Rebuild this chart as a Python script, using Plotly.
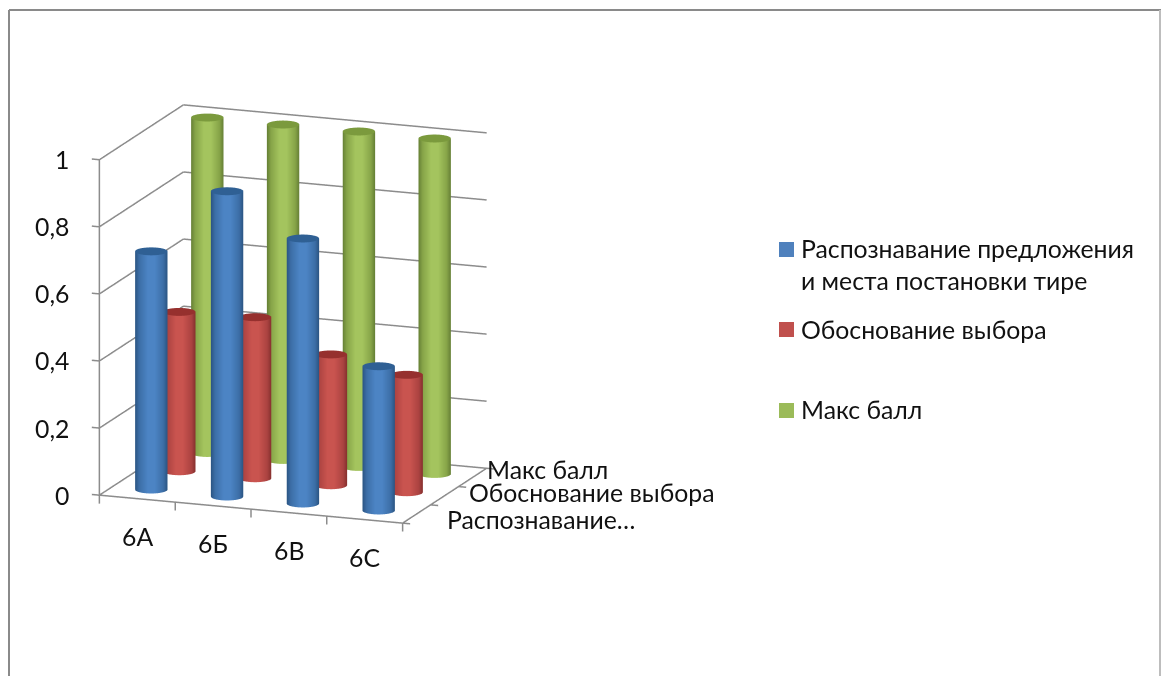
import numpy as np
import plotly.graph_objects as go

categories = ["6А", "6Б", "6В", "6С"]
series_names = ["Распознавание предложения и места постановки тире", "Обоснование выбора", "Макс балл"]
series_axis_labels = ["Распознавание…", "Обоснование выбора", "Макс балл"]
blue_values = [0.71, 0.91, 0.79, 0.43]
red_values = [0.475, 0.48, 0.39, 0.35]
green_values = [1.0, 1.0, 1.0, 1.0]
z_ticks = [0, 0.2, 0.4, 0.6, 0.8, 1]
z_labels = ["0", "0,2", "0,4", "0,6", "0,8", "1"]

FONT = "Lato, 'Open Sans', sans-serif"
GRID = "#8c8c8c"
az, el = np.radians(20.6), np.radians(14.2)
R = 3.0
view = np.array([np.sin(az) * np.cos(el), -np.cos(az) * np.cos(el), np.sin(el)])
SC = 1.102
ux, uy, uz = SC * 0.936 / 4, SC * 0.69 / 3, SC * 1.0
rx, ry = 0.2, 0.203
XR, YR, ZR = [-0.65, 3.65], [-0.56, 2.56], [-0.035, 1.035]

palette = [
    dict(dark="#2a5482", mid="#3c6ea6", light="#4c84c4", cap="#2f6094"),
    dict(dark="#86302e", mid="#ab4341", light="#c9544f", cap="#96302e"),
    dict(dark="#657f35", mid="#86a448", light="#a4c45e", cap="#7b9a3d"),
]

fig = go.Figure()
for j, vals in enumerate([blue_values, red_values, green_values]):
    pal = palette[j]
    cs = [[0, pal["dark"]], [0.2, pal["mid"]], [0.62, pal["light"]], [0.82, pal["light"]],
          [0.83, pal["cap"]], [1, pal["cap"]]]
    for i, v in enumerate(vals):
        t = np.linspace(0, 2 * np.pi, 145)
        nx, ny = np.cos(t), np.sin(t)
        c = np.clip(nx * view[0] + ny * view[1], 0, 1) / np.hypot(view[0], view[1])
        shade = 0.95 * (1 - np.sqrt(np.clip(1 - c ** 2, 0, 1)))
        rings_r = [1, 1, 1, 0]
        rings_z = [0, v, v, v]
        X = np.array([i + rx * r * nx for r in rings_r])
        Y = np.array([j + ry * r * ny for r in rings_r])
        Z = np.array([np.full_like(t, zz) for zz in rings_z])
        C = np.array([shade, shade, np.full_like(t, 1.2), np.full_like(t, 1.2)])
        fig.add_trace(go.Surface(x=X, y=Y, z=Z, surfacecolor=C, colorscale=cs, cmin=0, cmax=1.2,
                                 showscale=False, hoverinfo="skip",
                                 lighting=dict(ambient=1, diffuse=0, specular=0, roughness=1, fresnel=0)))

# walls, floor edges and tick marks
x0, x1, y0, y1 = -0.5, 3.5, -0.5, 2.5
lx, ly, lz = [], [], []
def seg(a, b):
    lx.extend([a[0], b[0], np.nan]); ly.extend([a[1], b[1], np.nan]); lz.extend([a[2], b[2], np.nan])
for z in z_ticks:
    seg((x0 - 0.1, y0, z), (x0, y0, z))
    seg((x0, y0, z), (x0, y1, z))
    seg((x0, y1, z), (x1, y1, z))
seg((x0, y0, 0), (x0, y0, 1))
seg((x0, y0, 0), (x1, y0, 0))
seg((x1, y0, 0), (x1, y1, 0))
for k in range(5):
    seg((x0 + k, y0, 0), (x0 + k, y0, -0.025))
for k in range(4):
    seg((x1, y0 + k, 0), (x1 + 0.1, y0 + k, 0))
fig.add_trace(go.Scatter3d(x=lx, y=ly, z=lz, mode="lines", line=dict(color=GRID, width=3),
                           hoverinfo="skip", showlegend=False))

annots = []
tf = dict(family=FONT, size=24.8, color="#111111")
for z, lab in zip(z_ticks, z_labels):
    annots.append(dict(x=x0, y=y0, z=z, text=lab, showarrow=False, xanchor="right", xshift=-28, font=tf))
for i, c in enumerate(categories):
    annots.append(dict(x=i, y=y0, z=0, text=c, showarrow=False, yshift=-38, font=tf))
for j, s in enumerate(series_axis_labels):
    annots.append(dict(x=x1, y=j, z=0, text=s, showarrow=False, xanchor="left",
                       xshift=[28, 22, 12][j], yshift=[-6, 3, 8][j], font=tf))

hidden = dict(visible=False, showgrid=False, zeroline=False, showticklabels=False, showbackground=False)
fig.update_layout(
    width=1161, height=676, margin=dict(l=0, r=0, t=0, b=0), paper_bgcolor="white", showlegend=False,
    scene=dict(
        domain=dict(x=[0, 586 / 1161], y=[48 / 676, 1]),
        xaxis=dict(hidden, range=XR), yaxis=dict(hidden, range=YR), zaxis=dict(hidden, range=ZR),
        aspectmode="manual",
        aspectratio=dict(x=ux * (XR[1] - XR[0]), y=uy * (YR[1] - YR[0]), z=uz * (ZR[1] - ZR[0])),
        camera=dict(eye=dict(x=R * view[0], y=R * view[1], z=R * view[2]), center=dict(x=0, y=0, z=0),
                    up=dict(x=0, y=0, z=1), projection=dict(type="orthographic")),
        annotations=annots,
    ),
    shapes=[
        dict(type="line", xref="paper", yref="paper", x0=9 / 1161, x1=9 / 1161, y0=0, y1=1 - 10 / 676, line=dict(color="#8a8a8a", width=2)),
        dict(type="line", xref="paper", yref="paper", x0=9 / 1161, x1=1, y0=1 - 10 / 676, y1=1 - 10 / 676, line=dict(color="#8a8a8a", width=2)),
        dict(type="line", xref="paper", yref="paper", x0=1160 / 1161, x1=1160 / 1161, y0=0, y1=1 - 10 / 676, line=dict(color="#bdbdbd", width=2)),
    ] + [
        dict(type="rect", xref="paper", yref="paper", x0=779 / 1161, x1=794 / 1161,
             y0=1 - yy / 676, y1=1 - (yy + 15) / 676, fillcolor=col, line=dict(width=0))
        for yy, col in [(242, "#4f81bd"), (322, "#c0504d"), (403, "#9bbb59")]
    ],
    annotations=[
        dict(xref="paper", yref="paper", x=799 / 1161, y=1 - yy / 676, text=t, showarrow=False,
             xanchor="left", yanchor="middle", font=tf)
        for yy, t in [(248, "Распознавание предложения"), (280, "и места постановки тире"),
                      (329, "Обоснование выбора"), (409, "Макс балл")]
    ],
)
fig.write_html("out.html", config=dict(displayModeBar=False),
               post_script="document.body.style.margin='0';document.body.style.overflow='hidden';")
